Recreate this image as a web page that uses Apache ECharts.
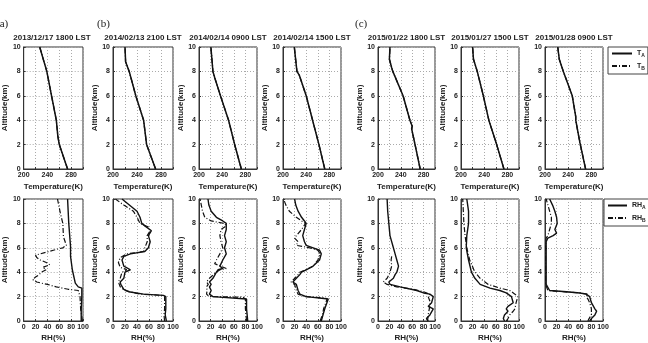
<!DOCTYPE html>
<html>
<head>
<meta charset="utf-8">
<script src="https://cdn.jsdelivr.net/npm/echarts@6/dist/echarts.min.js"></script>
<style>
html,body{margin:0;padding:0;background:#fff;}
#main{width:648px;height:343px;}
</style>
</head>
<body>
<div id="main"></div>
<script>
//每个时次的标题
var titles = ["2013/12/17 1800 LST","2014/02/13 2100 LST","2014/02/14 0900 LST","2014/02/14 1500 LST",
    "2015/01/22 1800 LST","2015/01/27 1500 LST","2015/01/28 0900 LST"];

var altTicks = [0,2,4,6,8,10];
var tempTicks = [200,240,280];
var rhTicks = [0,20,40,60,80,100];

/*温度廓线 (K)，T_A 与 T_B 在图上重合*/
var tAlt1 = [0,2,2.7,4,6,8,10];
var tA1 = [274,260,257.6,255,247,239,227];
var tAlt2 = [0,2,4,6,8,8.8,10];
var tA2 = [271,256,251,238,227,221,220];
var tAlt3 = [0,1.9,2.0,2.1,4,6,7.5,8,10];
var tA3 = [273,262,264,261,251,237,227,224,220.5];
var tAlt4 = [0,2,2.1,4,6,7.7,8,10];
var tA4 = [272,262,263,251,240,228,224,219.5];
var tAlt5 = [0,2,3.3,3.5,4,6,8,8.3,9,10];
var tA5 = [274,265,259,260,256,244,226,224,220,221];
var tAlt6 = [0,2,4,6,8,9,10];
var tA6 = [274,261.5,248,238.5,228,221.5,220];
var tAlt7 = [0,2.2,4,4.3,6,8,9,10];
var tA7 = [270,260,253,253,247,231.6,224.6,222];

/*相对湿度廓线 (%)*/
var rhAltA1 = [0,1,2,2.7,2.8,3.1,4.2,5.3,6.1,8,10];
var rhA1 = [97,97,98,98,92,87,82,79,79,76,74];
var rhAltB1 = [0,1,2,2.5,2.6,2.8,3.0,3.1,3.2,3.4,3.6,3.8,4.0,4.2,4.4,4.6,4.8,5.0,5.2,5.4,5.5,5.8,6.0,6.2,6.9,8,8.8,10];
var rhB1 = [99,96,95,92,75,55,40,30,22,15,20,26,30,38,32,44,38,28,22,20,28,50,66,72,67,66,62,57];

var rhAltA2 = [0,0.5,1,2,2.1,2.2,2.4,2.6,3,3.2,3.5,4,4.2,4.5,5,5.3,5.5,5.7,6,6.5,7,7.4,7.8,8,8.5,9,10];
var rhA2 = [89,87,88,88,84,51,26,18,13,12,18,20,29,18,15,18,29,53,59,62,59,64,53,48,45,40,15];
var rhAltB2 = [0,0.5,1,2,2.1,2.2,2.5,2.8,3.2,3.5,4,4.2,4.4,4.8,5.2,5.5,5.7,6,6.5,7,7.4,7.7,8,8.5,9,9.5,10];
var rhB2 = [86,85,86,86,81,45,20,12,9,12,15,23,12,9,12,23,51,53,57,57,62,59,45,40,34,18,4];

var rhAltA3 = [0,0.5,1,1.8,1.95,2,2.2,2.5,2.8,3,3.2,3.5,4,4.2,4.3,4.5,5,5.5,6,6.5,7,7.5,8,8.2,8.5,9,9.5,10];
var rhA3 = [84,83,82,82,79,24,18,21,18,21,18,24,30,33,41,36,41,47,44,47,44,47,47,41,30,21,17,15.5];
var rhAltB3 = [0,1,1.8,1.95,2,2.2,2.5,2.8,3,3.2,3.5,4,4.2,4.3,4.7,5,5.5,6,6.5,7,7.5,7.8,8,8.2,8.5,9,9.5,10];
var rhB3 = [82,80,80,76,18,13,14,13,16,13,18,30,36,47,27,30,36,41,38,36,38,47,44,21,10,6,4,2];

var rhAltA4 = [0,0.5,1,1.8,1.9,2,2.2,2.5,3,3.2,3.5,3.8,4,4.2,4.5,5,5.5,5.8,6,6.2,6.5,7,7.5,8,8.2,8.5,9,9.5,10];
var rhA4 = [66,69,72,78,75,40,29,26,23,17,23,29,32,40,52,63,66,63,52,40,37,34,37,40,37,32,26,22,20];
var rhAltB4 = [0,0.5,1,1.8,1.9,2,2.2,2.5,3,3.2,3.5,3.8,4,4.2,4.5,5,5.5,5.8,6,6.2,6.5,6.8,7,7.5,8,8.2,8.5,9,9.5,10];
var rhB4 = [64,68,70,76,72,37,26,23,20,14,20,26,29,39,52,60,64,60,46,23,26,20,23,32,39,32,23,11,5,1];

var rhAltA5 = [0,0.2,0.5,1,1.2,1.5,2,2.2,2.3,2.5,2.8,3,3.2,3.5,3.8,4,4.5,5,5.5,6,7,8,9,10];
var rhA5 = [88,85,91,97,88,94,97,91,80,68,39,21,19,27,30,33,36,33,30,27,21,19,17,16];
var rhAltB5 = [0,0.5,1,1.5,2,2.2,2.4,2.6,2.8,3,3.2,3.5,3.8,4,4.5,5,5.3];
var rhB5 = [87,88,90,92,88,91,80,62,33,16,9,16,19,21,24,23,24];

var rhAltA6 = [0,0.2,0.5,0.8,1,1.2,1.5,2,2.3,2.5,2.7,3,3.5,4,5,6,7,8,9,10];
var rhA6 = [75,73,75,81,78,81,90,87,78,67,50,33,24,18,13,9,10,13,13,10];
var rhAltB6 = [0,0.2,0.5,0.8,1,1.5,2,2.2,2.5,2.7,3,3.5,4,5,6,7,8,9,10];
var rhB6 = [78,81,84,90,93,95,98,93,84,67,47,33,24,15,10,7,5,4,3];

var rhAltA7 = [0,0.2,0.5,0.8,1,1.5,2,2.2,2.3,2.4,2.5,3,4,5,6,6.5,6.8,7,7.2,7.5,8,8.5,9,9.5,10];
var rhA7 = [77,80,86,89,86,80,77,71,60,37,8,2,2,2,2,2,5,14,20,17,21,20,17,13,8];
var rhAltB7 = [0,0.2,0.5,1,1.5,1.8,2,2.2,2.3,2.4,2.5,3,4,6,6.8,7,7.5,8,8.5,9,9.5,10];
var rhB7 = [74,76,80,80,77,74,71,74,60,31,5,1,1,1,2,5,8,11,11,8,5,2];

var tempList = [[tAlt1,tA1],[tAlt2,tA2],[tAlt3,tA3],[tAlt4,tA4],[tAlt5,tA5],[tAlt6,tA6],[tAlt7,tA7]];
var rhList = [[rhAltA1,rhA1,rhAltB1,rhB1],[rhAltA2,rhA2,rhAltB2,rhB2],[rhAltA3,rhA3,rhAltB3,rhB3],
    [rhAltA4,rhA4,rhAltB4,rhB4],[rhAltA5,rhA5,rhAltB5,rhB5],[rhAltA6,rhA6,rhAltB6,rhB6],[rhAltA7,rhA7,rhAltB7,rhB7]];

//面板位置
var lefts = [21,113,199,283,378,461,545];
var widths = [62,60,58,58,57,58,58];
var tops = [47,199];
var plotH = 122;

var boldFont = "Liberation Sans";
var dashDot = [5,2,1,2];
var lineColor = "#111";

function zip(alts, vals) {
    var d = [];
    for (var i = 0; i < alts.length; i++) {
        d.push([vals[i], alts[i]]);
    }
    return d;
}

function showOnly(ticks) {
    return function (v) {
        return ticks.indexOf(v) >= 0 ? String(v) : "";
    };
}

function legendFmt(name) {
    //最后一个字母作下标
    return "{m|" + name.slice(0, -1) + "}{s|" + name.slice(-1) + "}";
}

function lineSeries(name, gi, data, width, type) {
    return {name:name, type:"line", xAxisIndex:gi, yAxisIndex:gi, data:data,
        showSymbol:false, symbol:"none", color:lineColor, itemStyle:{color:lineColor},
        lineStyle:{color:lineColor, width:width, type:type}, animation:false};
}

var grid = [], xAxis = [], yAxis = [], series = [], title = [];

for (var r = 0; r < 2; r++) {
    for (var c = 0; c < 7; c++) {
        var gi = r * 7 + c;
        grid.push({left:lefts[c], top:tops[r], width:widths[c], height:plotH,
            show:true, borderColor:"#333", borderWidth:1, backgroundColor:"transparent"});
        xAxis.push({
            gridIndex:gi, type:"value",
            min:r == 0 ? 200 : 0, max:r == 0 ? 300 : 100, interval:20,
            name:r == 0 ? "Temperature(K)" : "RH(%)",
            nameLocation:"middle", nameGap:r == 0 ? 14 : 13,
            nameTextStyle:{fontFamily:boldFont, fontSize:8, fontWeight:"bold", color:"#222"},
            axisLine:{lineStyle:{color:"#333", width:1}},
            axisTick:{inside:true, length:2, lineStyle:{color:"#333"}},
            axisLabel:{fontFamily:boldFont, fontSize:7, fontWeight:"bold", color:"#222", margin:3,
                formatter:showOnly(r == 0 ? tempTicks : rhTicks)},
            splitLine:{show:true, lineStyle:{color:"#aaa", type:[1,2], width:1}}
        });
        yAxis.push({
            gridIndex:gi, type:"value", min:0, max:10, interval:2,
            name:"Altitude(km)", nameLocation:"middle", nameGap:12, nameRotate:90,
            nameTextStyle:{fontFamily:boldFont, fontSize:8, fontWeight:"bold", color:"#222"},
            axisLine:{lineStyle:{color:"#333", width:1}},
            axisTick:{inside:true, length:2, lineStyle:{color:"#333"}},
            axisLabel:{fontFamily:boldFont, fontSize:7, fontWeight:"bold", color:"#222", margin:3,
                formatter:showOnly(altTicks)},
            splitLine:{show:true, lineStyle:{color:"#aaa", type:[1,2], width:1}}
        });

        if (r == 0) {
            var t = tempList[c];
            series.push(lineSeries("TB", gi, zip(t[0], t[1]), 1.3, dashDot));
            series.push(lineSeries("TA", gi, zip(t[0], t[1]), 1.5, "solid"));
            title.push({text:titles[c], left:lefts[c] + widths[c] / 2, top:34, textAlign:"center", padding:0,
                textStyle:{fontFamily:boldFont, fontSize:8, fontWeight:"bold", color:"#222"}});
        } else {
            var h = rhList[c];
            series.push(lineSeries("RHA", gi, zip(h[0], h[1]), 1.4, "solid"));
            series.push(lineSeries("RHB", gi, zip(h[2], h[3]), 1.2, dashDot));
        }
    }
}

var richText = {
    m:{fontFamily:boldFont, fontSize:7, fontWeight:"bold", color:"#222"},
    s:{fontFamily:boldFont, fontSize:5, fontWeight:"bold", color:"#222", padding:[5,0,0,0]}
};

var legendBase = {orient:"vertical", itemWidth:20, itemHeight:8, itemGap:4, padding:[3,3,3,3],
    borderColor:"#444", borderWidth:1, formatter:legendFmt, textStyle:{rich:richText},
    itemStyle:{opacity:0}};

var legend = [
    Object.assign({}, legendBase, {data:["TA","TB"], left:608, top:47}),
    Object.assign({}, legendBase, {data:["RHA","RHB"], left:604, top:199, itemWidth:19})
];

var option = {
    animation:false,
    title:title,
    legend:legend,
    grid:grid,
    xAxis:xAxis,
    yAxis:yAxis,
    series:series,
    graphic:[
        {type:"text", x:-4, y:19, style:{text:"(a)", font:"11px 'Liberation Serif'", fill:"#222"}},
        {type:"text", x:97, y:19, style:{text:"(b)", font:"11px 'Liberation Serif'", fill:"#222"}},
        {type:"text", x:355, y:19, style:{text:"(c)", font:"11px 'Liberation Serif'", fill:"#222"}}
    ]
};

var myChart = echarts.init(document.getElementById("main"));
myChart.setOption(option);
</script>
</body>
</html>
